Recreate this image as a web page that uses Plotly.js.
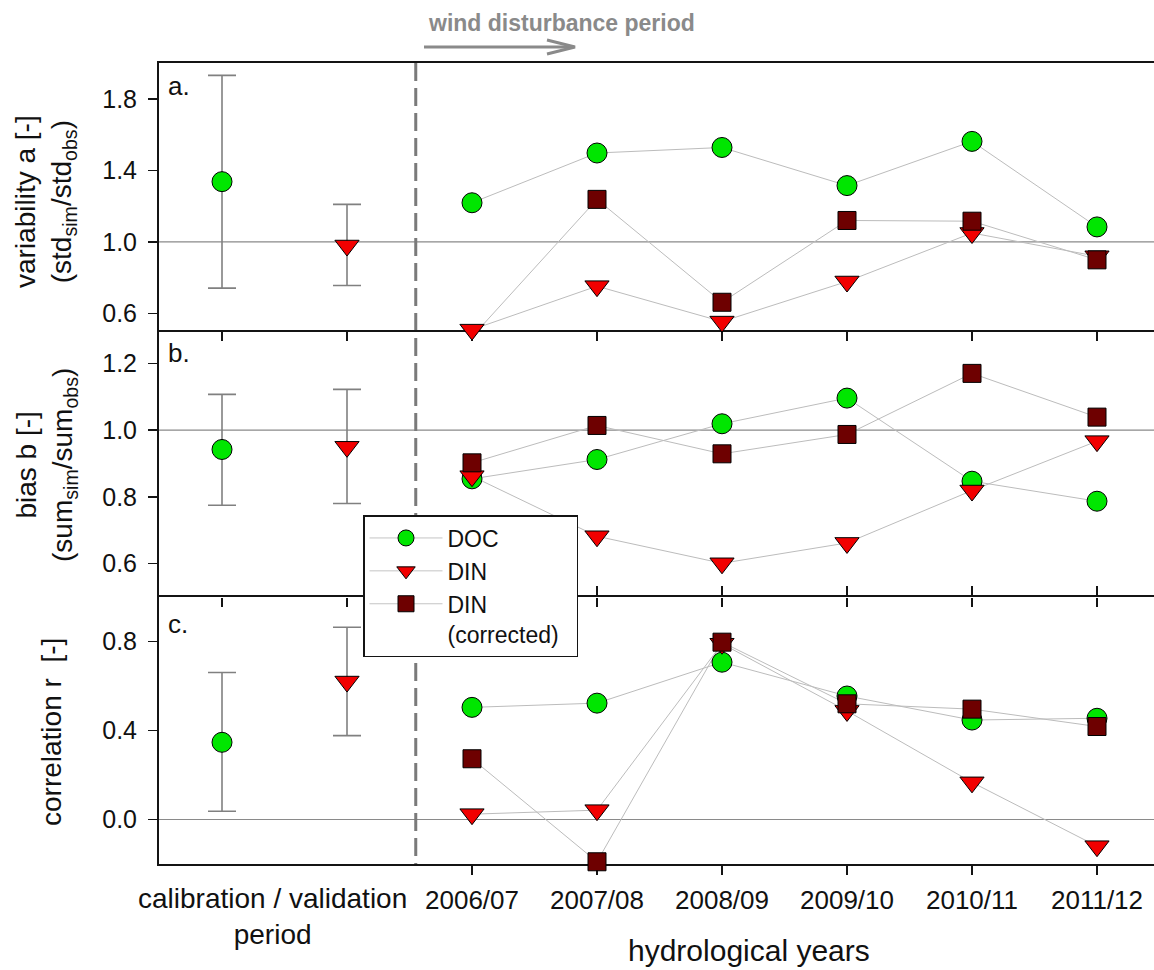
<!DOCTYPE html>
<html><head><meta charset="utf-8">
<script src="https://cdn.plot.ly/plotly-3.0.1.min.js"></script>
<style>html,body{margin:0;padding:0;background:#fff;}#chart{width:1154px;height:970px;}</style>
</head><body><div id="chart"></div>
<script>
// ---------- data ----------
const years = ['2006/07','2007/08','2008/09','2009/10','2010/11','2011/12'];
const calibLabel = 'calibration / validation<br>period';
const seriesNames = ['DOC', 'DIN', 'DIN<br>(corrected)\u00a0\u00a0'];

// panel a: variability a (std_sim/std_obs)
const varDOC  = [1.219, 1.497, 1.528, 1.315, 1.562, 1.084];
const varDIN  = [0.510, 0.753, 0.555, 0.779, 1.050, 0.920];
const varDINc = [0.470, 1.238, 0.663, 1.120, 1.116, 0.900];
const varCalib     = [1.337, 0.980];   // DOC, DIN
const varCalibLow  = [0.742, 0.757];
const varCalibHigh = [1.931, 1.210];

// panel b: bias b (sum_sim/sum_obs)
const biasDOC  = [0.854, 0.912, 1.019, 1.096, 0.847, 0.787];
const biasDIN  = [0.862, 0.682, 0.601, 0.662, 0.819, 0.967];
const biasDINc = [0.902, 1.014, 0.929, 0.987, 1.170, 1.039];
const biasCalib     = [0.942, 0.950];
const biasCalibLow  = [0.775, 0.780];
const biasCalibHigh = [1.107, 1.122];

// panel c: correlation r
const corDOC  = [0.504, 0.523, 0.707, 0.555, 0.447, 0.455];
const corDIN  = [0.024, 0.042, 0.790, 0.488, 0.167, -0.120];
const corDINc = [0.273, -0.190, 0.797, 0.520, 0.496, 0.418];
const corCalib     = [0.347, 0.620];
const corCalibLow  = [0.037, 0.377];
const corCalibHigh = [0.661, 0.864];

// tick values
const varTicks  = [0.6, 1.0, 1.4, 1.8];
const biasTicks = [0.6, 0.8, 1.0, 1.2];
const corTicks  = [0.0, 0.4, 0.8];

// ---------- geometry / style ----------
const W = 1154, H = 970, L = 159, T = 63, B = 106, R = 0;
const PW = W - L - R, PH = H - T - B;
const px = x => (x - L) / PW;
const py = y => (T + PH - y) / PH;
const FONT = 'Liberation Sans, Arial, sans-serif';
const cDOC = '#00E600', cDIN = '#F20000', cDINc = '#6E0000';
const lineCol = '#bcbcbc', errCol = '#808080', axCol = '#141414';
const xPos = years.map((_, i) => i + 2);   // years follow the two calibration slots
const calibPos = [0, 1];
const allPos = calibPos.concat(xPos);

const markerDOC  = {symbol: 'circle', size: 20, color: cDOC, line: {color: '#000', width: 1}};
const markerDIN  = {symbol: 'triangle-down', size: 21, color: cDIN, line: {color: '#000', width: 1}};
const markerDINc = {symbol: 'square', size: 18, color: cDINc, line: {color: '#000', width: 1}};

const traces = [];
function addPanel(k, doc, din, dinc, cal, calLo, calHi) {
  const xa = k === 1 ? 'x' : 'x' + k, ya = k === 1 ? 'y' : 'y' + k;
  [doc, din, dinc].forEach(s => traces.push({
    x: xPos, y: s, xaxis: xa, yaxis: ya, mode: 'lines', type: 'scatter',
    line: {color: lineCol, width: 1}, showlegend: false, hoverinfo: 'skip'
  }));
  const calMarkers = [markerDOC, markerDIN];
  cal.forEach((v, i) => traces.push({
    x: [calibPos[i]], y: [v], xaxis: xa, yaxis: ya, mode: 'markers', type: 'scatter',
    marker: calMarkers[i], showlegend: false, cliponaxis: false,
    error_y: {type: 'data', symmetric: false, array: [calHi[i] - v], arrayminus: [v - calLo[i]],
              color: errCol, thickness: 1.6, width: 14}
  }));
  [[doc, markerDOC], [din, markerDIN], [dinc, markerDINc]].forEach(([s, m]) => traces.push({
    x: xPos, y: s, xaxis: xa, yaxis: ya, mode: 'markers', type: 'scatter',
    marker: m, showlegend: false, cliponaxis: false
  }));
}
addPanel(1, varDOC, varDIN, varDINc, varCalib, varCalibLow, varCalibHigh);
addPanel(2, biasDOC, biasDIN, biasDINc, biasCalib, biasCalibLow, biasCalibHigh);
addPanel(3, corDOC, corDIN, corDINc, corCalib, corCalibLow, corCalibHigh);

// legend entries
[markerDOC, markerDIN, markerDINc].forEach((m, i) => traces.push({
  x: [null], y: [null], xaxis: 'x3', yaxis: 'y3', mode: 'lines+markers', type: 'scatter',
  name: seriesNames[i], marker: m, line: {color: '#c4c4c4', width: 1}, showlegend: true
}));

const xRange = [-0.504, (W - R - L) / 125 - 0.504];
const xBase = {
  range: xRange, tickvals: allPos, ticks: 'outside', ticklen: 9, tickwidth: 1.5,
  tickcolor: axCol, showline: true, linewidth: 2, linecolor: axCol, showgrid: false,
  zeroline: false, layer: 'below traces', fixedrange: true, showticklabels: false
};
const yBase = {
  ticks: 'outside', ticklen: 9, tickwidth: 1.5, tickcolor: axCol, showline: true, linewidth: 2,
  linecolor: axCol, showgrid: false, zeroline: false, tickformat: '.1f',
  tickfont: {family: FONT, size: 25, color: '#111'}, ticklabelstandoff: 6,
  layer: 'below traces', fixedrange: true
};

const refLine = (yref, yv) => ({type: 'line', xref: 'paper', x0: 0, x1: 1, yref: yref, y0: yv, y1: yv,
  line: {color: '#8a8a8a', width: 1.2}, layer: 'below'});

const layout = {
  width: W, height: H, margin: {l: L, r: R, t: T, b: B, pad: 0},
  paper_bgcolor: '#fff', plot_bgcolor: 'rgba(0,0,0,0)',
  font: {family: FONT, color: '#111'},
  xaxis:  Object.assign({}, xBase, {anchor: 'y', mirror: true}),
  xaxis2: Object.assign({}, xBase, {anchor: 'y2', showline: false}),
  xaxis3: Object.assign({}, xBase, {anchor: 'y3', mirror: 'ticks', tickvals: xPos,
          ticktext: years, showticklabels: true,
          tickfont: {family: FONT, size: 26, color: '#111'}, ticklabelstandoff: 3}),
  xaxis4: Object.assign({}, xBase, {anchor: 'y3', overlaying: 'x3', mirror: 'ticks', tickvals: calibPos}),
  yaxis:  Object.assign({}, yBase, {domain: [2/3, 1], range: [0.508, 2.0], tickvals: varTicks, anchor: 'x'}),
  yaxis2: Object.assign({}, yBase, {domain: [1/3, 2/3], range: [0.5, 1.3], tickvals: biasTicks, anchor: 'x2'}),
  yaxis3: Object.assign({}, yBase, {domain: [0, 1/3], range: [-0.2, 1.0], tickvals: corTicks, anchor: 'x3'}),
  showlegend: true,
  legend: {x: px(363), y: py(515), xanchor: 'left', yanchor: 'top', bgcolor: '#fff',
           bordercolor: axCol, borderwidth: 1.5, font: {family: FONT, size: 23, color: '#111'},
           itemwidth: 73, valign: 'top', tracegroupgap: 0},
  shapes: [
    refLine('y', 1.0), refLine('y2', 1.0), refLine('y3', 0.0),
    {type: 'line', xref: 'x', x0: 1.55, x1: 1.55, yref: 'paper', y0: 1, y1: 0,
     line: {color: '#7a7a7a', width: 3, dash: '18px,7px'}, layer: 'below'},
    {type: 'line', xref: 'paper', yref: 'paper', x0: px(424), x1: px(574), y0: py(47), y1: py(47),
     line: {color: '#8a8a8a', width: 3}},
    {type: 'path', xref: 'paper', yref: 'paper',
     path: `M ${px(547)},${py(40)} L ${px(575)},${py(47)} L ${px(547)},${py(54)}`,
     line: {color: '#8a8a8a', width: 3}}
  ],
  annotations: [
    {text: '<b>wind disturbance period</b>', xref: 'paper', yref: 'paper', x: px(426), y: py(23),
     xanchor: 'left', yanchor: 'middle', showarrow: false, font: {family: FONT, size: 23, color: '#8a8a8a'}},
    {text: 'a.', xref: 'paper', yref: 'paper', x: px(166), y: py(86), xanchor: 'left', yanchor: 'middle',
     showarrow: false, font: {family: FONT, size: 26, color: '#111'}},
    {text: 'b.', xref: 'paper', yref: 'paper', x: px(166), y: py(353), xanchor: 'left', yanchor: 'middle',
     showarrow: false, font: {family: FONT, size: 26, color: '#111'}},
    {text: 'c.', xref: 'paper', yref: 'paper', x: px(166), y: py(624), xanchor: 'left', yanchor: 'middle',
     showarrow: false, font: {family: FONT, size: 26, color: '#111'}},
    {text: 'variability a [-]<br>(std<sub>sim</sub>/std<sub>obs</sub>)', textangle: -90,
     xref: 'paper', yref: 'paper', x: px(46), y: py(202), xanchor: 'center', yanchor: 'middle',
     showarrow: false, font: {family: FONT, size: 28, color: '#111'}},
    {text: 'bias b [-]<br>(sum<sub>sim</sub>/sum<sub>obs</sub>)', textangle: -90,
     xref: 'paper', yref: 'paper', x: px(46), y: py(465), xanchor: 'center', yanchor: 'middle',
     showarrow: false, font: {family: FONT, size: 28, color: '#111'}},
    {text: 'correlation r\u00a0 [-]', textangle: -90,
     xref: 'paper', yref: 'paper', x: px(51), y: py(732), xanchor: 'center', yanchor: 'middle',
     showarrow: false, font: {family: FONT, size: 28, color: '#111'}},
    {text: calibLabel, xref: 'x3', yref: 'paper', x: 0.4, y: py(916), xanchor: 'center', yanchor: 'middle',
     showarrow: false, font: {family: FONT, size: 28, color: '#111'}},
    {text: 'hydrological years', xref: 'paper', yref: 'paper', x: px(749), y: py(950),
     xanchor: 'center', yanchor: 'middle', showarrow: false, font: {family: FONT, size: 30, color: '#111'}}
  ]
};

Plotly.newPlot('chart', traces, layout, {displayModeBar: false, staticPlot: true});
</script></body></html>
